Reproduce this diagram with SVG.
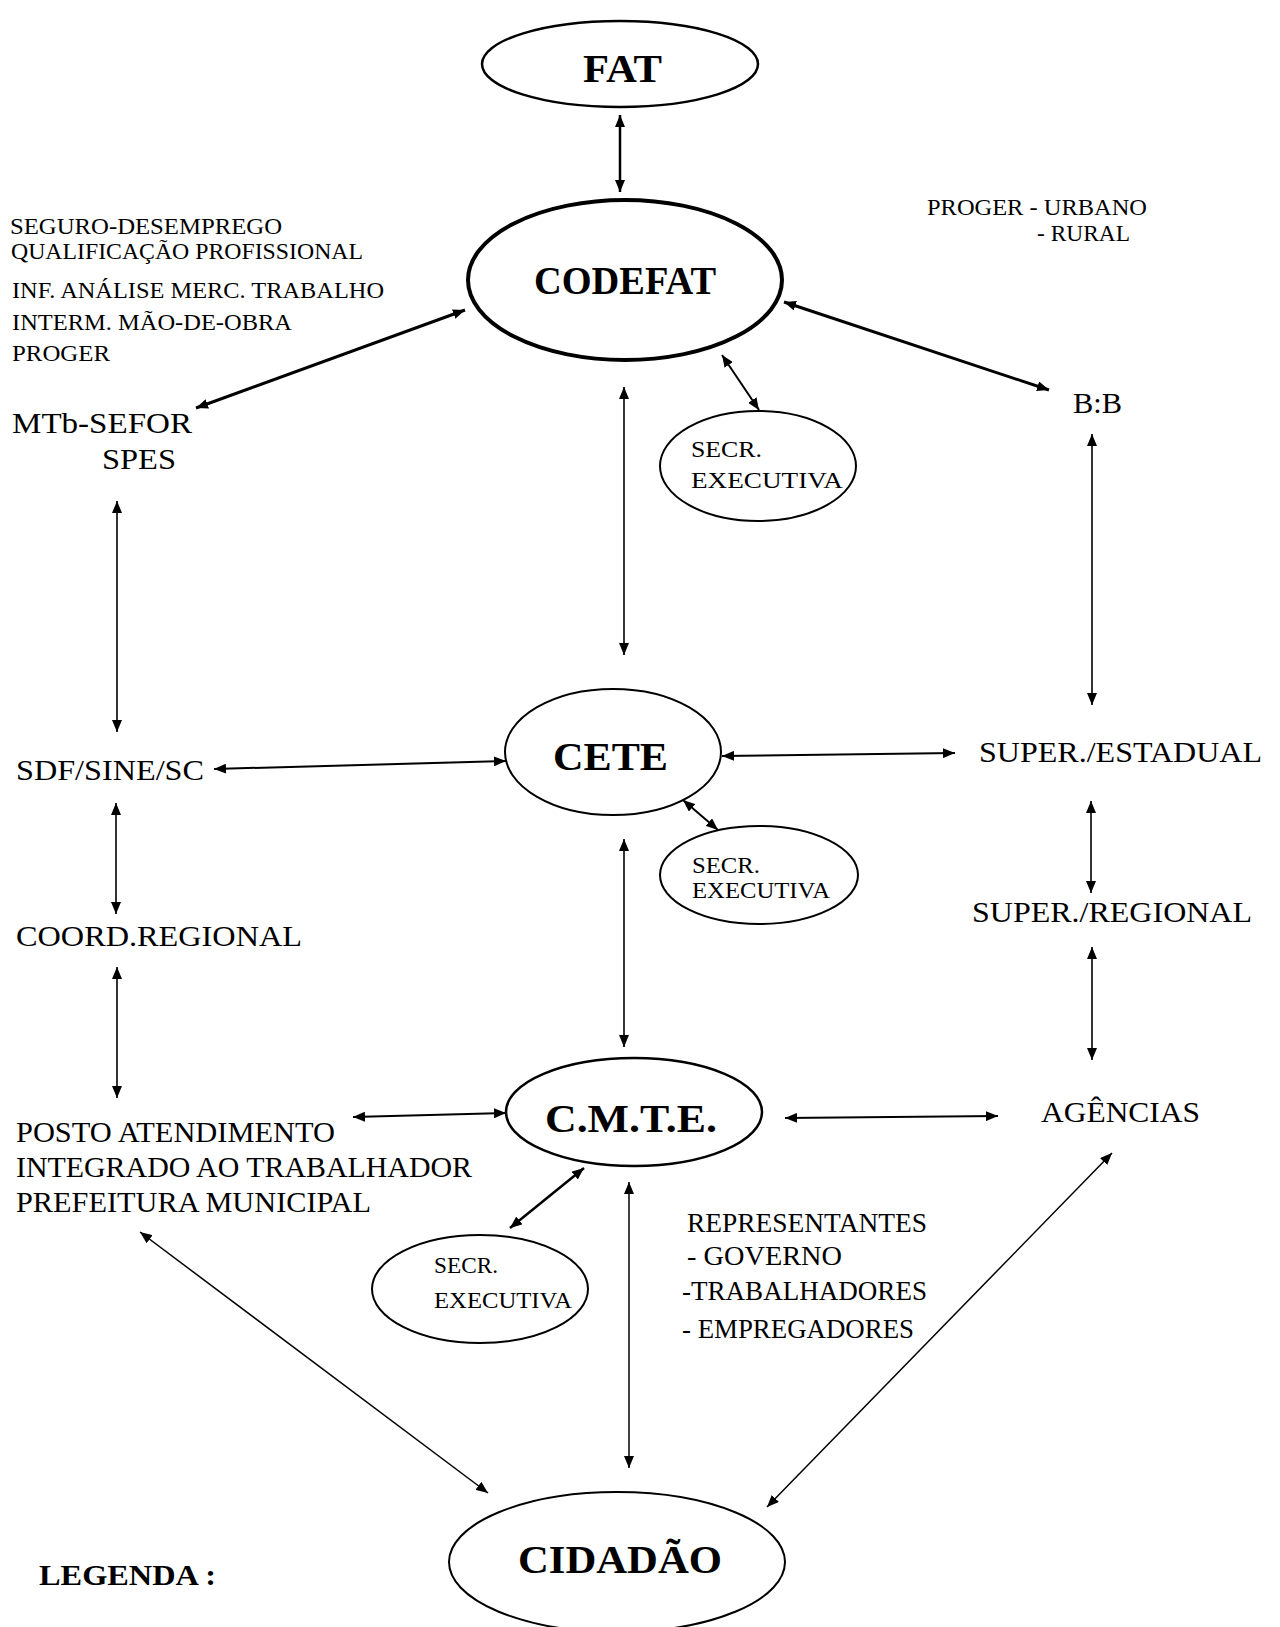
<svg xmlns="http://www.w3.org/2000/svg" width="1280" height="1627" viewBox="0 0 1280 1627">
<defs>
<marker id="ah" markerUnits="userSpaceOnUse" markerWidth="12" markerHeight="10" refX="12" refY="5" orient="auto-start-reverse">
<path d="M0,0 L12,5 L0,10 z" fill="#000"/>
</marker>
<style>
.node ellipse{fill:none;stroke:#000;stroke-width:2}
.t{font-family:"Liberation Serif","Times New Roman",serif;fill:#000}
.big{font-size:40px;font-weight:bold}
.med{font-size:30px}
.sm{font-size:23px}
.rep{font-size:27px}
.conn line{stroke:#000;stroke-width:1.6;marker-start:url(#ah);marker-end:url(#ah)}
</style>
</defs>
<rect width="1280" height="1627" fill="#fff"/>

<g id="connectors" class="conn">
<line x1="620" y1="115" x2="620" y2="192" style="stroke-width:2.5"/>
<line x1="465" y1="310" x2="196" y2="408" style="stroke-width:3"/>
<line x1="784" y1="302" x2="1049" y2="390" style="stroke-width:3"/>
<line x1="722" y1="355" x2="759" y2="410" style="stroke-width:2"/>
<line x1="624" y1="387" x2="624" y2="655"/>
<line x1="117" y1="501" x2="117" y2="732"/>
<line x1="1092" y1="434" x2="1092" y2="705"/>
<line x1="214" y1="769" x2="506" y2="761" style="stroke-width:2"/>
<line x1="722" y1="756" x2="955" y2="753" style="stroke-width:2"/>
<line x1="683" y1="800" x2="718" y2="830" style="stroke-width:2"/>
<line x1="116" y1="803" x2="116" y2="914"/>
<line x1="1091" y1="801" x2="1091" y2="893"/>
<line x1="624" y1="839" x2="624" y2="1047"/>
<line x1="117" y1="967" x2="117" y2="1098"/>
<line x1="1092" y1="947" x2="1092" y2="1060"/>
<line x1="353" y1="1117" x2="506" y2="1113" style="stroke-width:2"/>
<line x1="785" y1="1118" x2="998" y2="1116" style="stroke-width:2"/>
<line x1="584" y1="1168" x2="510" y2="1228" style="stroke-width:2.5"/>
<line x1="629" y1="1182" x2="629" y2="1468" style="stroke-width:1.5"/>
<line x1="140" y1="1232" x2="488" y2="1493" style="stroke-width:1.5"/>
<line x1="1112" y1="1153" x2="767" y2="1507" style="stroke-width:1.5"/>
</g>

<g id="fat" class="node">
<ellipse cx="620" cy="64" rx="138" ry="43" style="stroke-width:2.5"/>
<text class="t big" x="583" y="82" textLength="79" lengthAdjust="spacingAndGlyphs">FAT</text>
</g>

<g id="codefat" class="node">
<ellipse cx="625" cy="280" rx="157" ry="80" style="stroke-width:4"/>
<text class="t big" x="534" y="294" textLength="182" lengthAdjust="spacingAndGlyphs">CODEFAT</text>
</g>

<g id="codefat-notes">
<text class="t sm" x="10" y="234" textLength="272" lengthAdjust="spacingAndGlyphs">SEGURO-DESEMPREGO</text>
<text class="t sm" x="11" y="259" textLength="352" lengthAdjust="spacingAndGlyphs">QUALIFICAÇÃO PROFISSIONAL</text>
<text class="t sm" x="12" y="298" textLength="372" lengthAdjust="spacingAndGlyphs">INF. ANÁLISE MERC. TRABALHO</text>
<text class="t sm" x="12" y="330" textLength="280" lengthAdjust="spacingAndGlyphs">INTERM. MÃO-DE-OBRA</text>
<text class="t sm" x="12" y="361" textLength="98" lengthAdjust="spacingAndGlyphs">PROGER</text>
</g>

<g id="proger-notes">
<text class="t sm" x="927" y="215" textLength="220" lengthAdjust="spacingAndGlyphs">PROGER - URBANO</text>
<text class="t sm" x="1037" y="241" textLength="93" lengthAdjust="spacingAndGlyphs">- RURAL</text>
</g>

<g id="mtb-sefor">
<text class="t med" x="12" y="433" textLength="180" lengthAdjust="spacingAndGlyphs">MTb-SEFOR</text>
<text class="t med" x="102" y="469" textLength="74" lengthAdjust="spacingAndGlyphs">SPES</text>
</g>

<g id="bb">
<text class="t med" x="1073" y="413" textLength="49" lengthAdjust="spacingAndGlyphs">B:B</text>
</g>

<g id="secr1" class="node">
<ellipse cx="758" cy="466" rx="98" ry="55"/>
<text class="t sm" x="691" y="457" textLength="71" lengthAdjust="spacingAndGlyphs">SECR.</text>
<text class="t sm" x="691" y="488" textLength="152" lengthAdjust="spacingAndGlyphs">EXECUTIVA</text>
</g>

<g id="cete" class="node">
<ellipse cx="613" cy="752" rx="108" ry="63"/>
<text class="t big" x="553" y="770" textLength="115" lengthAdjust="spacingAndGlyphs">CETE</text>
</g>

<g id="sdf">
<text class="t med" x="16" y="780" textLength="188" lengthAdjust="spacingAndGlyphs">SDF/SINE/SC</text>
</g>

<g id="super-estadual">
<text class="t med" x="979" y="762" textLength="283" lengthAdjust="spacingAndGlyphs">SUPER./ESTADUAL</text>
</g>

<g id="secr2" class="node">
<ellipse cx="759" cy="875" rx="99" ry="49"/>
<text class="t sm" x="692" y="873" textLength="68" lengthAdjust="spacingAndGlyphs">SECR.</text>
<text class="t sm" x="692" y="898" textLength="138" lengthAdjust="spacingAndGlyphs">EXECUTIVA</text>
</g>

<g id="coord">
<text class="t med" x="16" y="946" textLength="286" lengthAdjust="spacingAndGlyphs">COORD.REGIONAL</text>
</g>

<g id="super-regional">
<text class="t med" x="972" y="922" textLength="280" lengthAdjust="spacingAndGlyphs">SUPER./REGIONAL</text>
</g>

<g id="cmte" class="node">
<ellipse cx="634" cy="1112" rx="128" ry="54" style="stroke-width:2.5"/>
<text class="t big" x="545" y="1132" textLength="172" lengthAdjust="spacingAndGlyphs">C.M.T.E.</text>
</g>

<g id="posto">
<text class="t med" x="16" y="1142" textLength="319" lengthAdjust="spacingAndGlyphs">POSTO ATENDIMENTO</text>
<text class="t med" x="16" y="1177" textLength="456" lengthAdjust="spacingAndGlyphs">INTEGRADO AO TRABALHADOR</text>
<text class="t med" x="16" y="1212" textLength="355" lengthAdjust="spacingAndGlyphs">PREFEITURA MUNICIPAL</text>
</g>

<g id="agencias">
<text class="t med" x="1041" y="1122" textLength="159" lengthAdjust="spacingAndGlyphs">AGÊNCIAS</text>
</g>

<g id="secr3" class="node">
<ellipse cx="480" cy="1289" rx="108" ry="54"/>
<text class="t sm" x="434" y="1273" textLength="64" lengthAdjust="spacingAndGlyphs">SECR.</text>
<text class="t sm" x="434" y="1308" textLength="138" lengthAdjust="spacingAndGlyphs">EXECUTIVA</text>
</g>

<g id="representantes">
<text class="t rep" x="687" y="1232" textLength="240" lengthAdjust="spacingAndGlyphs">REPRESENTANTES</text>
<text class="t rep" x="687" y="1265" textLength="155" lengthAdjust="spacingAndGlyphs">- GOVERNO</text>
<text class="t rep" x="682" y="1300" textLength="245" lengthAdjust="spacingAndGlyphs">-TRABALHADORES</text>
<text class="t rep" x="682" y="1338" textLength="232" lengthAdjust="spacingAndGlyphs">- EMPREGADORES</text>
</g>

<g id="cidadao" class="node">
<ellipse cx="617" cy="1562" rx="168" ry="70"/>
<text class="t big" x="518" y="1573" textLength="204" lengthAdjust="spacingAndGlyphs">CIDADÃO</text>
</g>

<g id="legenda">
<text class="t" x="39" y="1585" style="font-size:30px;font-weight:bold" textLength="177" lengthAdjust="spacingAndGlyphs">LEGENDA :</text>
</g>
</svg>
